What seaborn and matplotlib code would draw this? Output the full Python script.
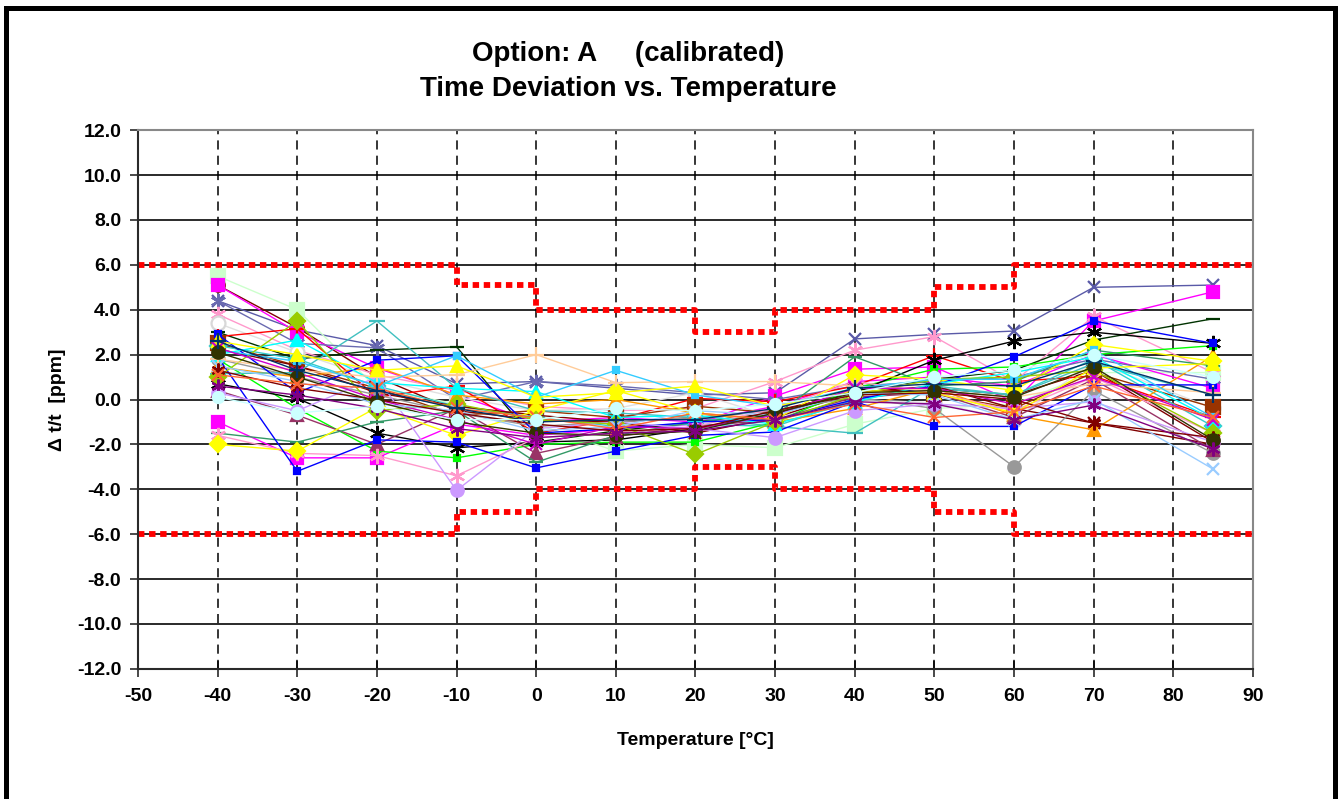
import matplotlib
matplotlib.use("Agg")
import matplotlib.pyplot as plt
from matplotlib.patches import Rectangle
import seaborn as sns
import pandas as pd
import numpy as np

# temperatures where every part was measured
temps = [-40, -30, -20, -10, 0, 10, 20, 30, 40, 50, 60, 70, 85]

# limit lines (step shaped)
limit_x = [-50, -10, -10, 0, 0, 20, 20, 30, 30, 50, 50, 60, 60, 90]
limit_upper = [6, 6, 5.1, 5.1, 4, 4, 3, 3, 4, 4, 5, 5, 6, 6]
limit_lower = [-6, -6, -5, -5, -4, -4, -3, -3, -4, -4, -5, -5, -6, -6]

# measured deviation per part [ppm] at each temperature
s01 = [4.4, 3.1, 2.4, 0.7, 0.8, 0.5, 0.2, 0.3, 2.7, 2.9, 3.05, 5.0, 5.1]
s02 = [-1.0, -2.6, -2.6, -1.1, -1.6, -1.3, -1.1, 0.15, 1.35, 1.45, -0.1, 3.5, 4.8]
s03 = [5.5, 4.0, 0.5, -0.2, -1.1, -2.3, -2.0, -2.15, -1.1, -0.4, -0.2, 1.2, 1.2]
s04 = [5.1, 3.2, 1.0, -0.5, -0.9, -1.0, -0.8, -0.5, 0.3, 0.5, 0.2, 1.3, -1.9]
s05 = [5.1, 3.0, 1.4, 0.2, -1.0, -0.8, -1.0, -0.3, 0.8, 1.0, 0.6, 2.0, 0.5]
s06 = [4.4, 2.5, 2.3, 0.0, 0.8, 0.6, 0.3, 0.0, 0.6, 0.8, 1.0, 1.8, 0.9]
s07 = [3.8, 2.2, 1.1, 0.4, -0.3, -0.5, -0.4, 0.8, 2.2, 2.8, 0.8, 3.7, 1.2]
s08 = [3.4, 2.1, 0.9, 0.1, -0.5, -0.4, 0.3, -0.8, 0.0, -0.15, -0.9, 1.7, -0.4]
s09 = [3.0, 1.8, 2.2, 2.35, -1.9, -1.4, -1.0, -0.6, 0.4, 0.9, 1.3, 2.65, 3.6]
s10 = [2.8, 3.15, 0.1, 0.6, -1.5, -0.9, 0.05, -0.1, 0.6, 1.95, 0.8, 1.05, -0.8]
s11 = [2.5, 1.5, 0.5, -0.7, -0.5, -0.8, -0.3, -0.6, 0.4, 0.25, -0.4, 1.2, -0.35]
s12 = [2.4, 1.8, 0.6, -0.3, -0.8, -1.2, -1.1, -1.2, 0.0, 0.5, 0.2, 1.8, -1.2]
s13 = [2.25, 1.5, 0.3, -0.3, -0.7, -1.0, -1.5, -0.8, 0.3, 0.6, -0.4, -1.05, -2.0]
s14 = [1.8, 1.0, 0.2, -0.6, -1.2, -1.0, -0.8, -0.5, 0.1, -0.4, -3.0, 0.4, -2.4]
s15 = [1.8, -0.4, -2.3, -2.6, -2.0, -1.9, -1.9, -1.0, 0.5, 1.35, 1.45, 2.0, 2.4]
s16 = [1.45, 1.0, 1.45, 0.2, -0.2, 0.0, -0.6, -1.0, -0.4, 0.5, -0.7, -1.35, 1.95]
s17 = [1.15, 1.2, 3.5, 0.5, -0.5, -0.6, -0.8, -1.2, -1.5, 0.6, 0.2, 1.6, 0.2]
s18 = [0.7, 0.05, -1.5, -2.15, -1.9, -1.8, -1.3, -0.65, 0.3, 1.75, 2.6, 3.0, 2.5]
s19 = [0.4, -0.7, -2.0, -0.4, -2.4, -1.65, -1.2, -0.9, 0.1, 0.3, -0.8, 0.9, -2.25]
s20 = [-1.5, -1.9, -1.0, -0.5, -2.8, -1.6, -1.0, -0.7, 1.9, 0.6, 0.8, 2.2, 1.5]
s21 = [-1.6, -2.4, -2.5, -3.4, -1.7, -1.5, -1.2, -0.4, 0.8, 0.3, -0.5, 1.0, -1.5]
s22 = [-2.0, -2.3, -0.35, -1.6, -0.5, 0.4, -0.6, -0.9, 1.1, 0.9, 0.4, 2.45, 1.7]
s23 = [1.9, -3.2, -1.8, -1.9, -3.05, -2.3, -1.6, -1.45, -0.1, -1.2, -1.2, 0.65, 0.65]
s24 = [2.9, 0.3, 1.75, 1.95, -1.5, -1.3, -1.0, -0.9, 0.0, 0.6, 1.9, 3.5, 2.5]
s25 = [0.3, -0.5, 1.0, -4.05, -1.3, -1.0, -1.3, -1.7, -0.5, -0.2, -0.4, -0.1, -1.9]
s26 = [2.0, 2.65, 0.75, 0.5, 0.35, -0.8, -0.7, -1.1, -0.1, 0.7, 1.2, 1.9, -0.9]
s27 = [1.0, 3.5, -0.5, -0.2, -0.9, -1.1, -2.45, -1.0, 0.2, 0.9, 1.0, 1.3, -1.5]
s28 = [1.8, 1.3, 1.0, 1.1, 2.0, 0.75, 0.8, 0.8, 0.6, 0.4, 0.1, 0.7, 0.3]
s29 = [2.2, 1.7, 0.6, 1.95, 0.1, 1.3, 0.2, -0.3, 0.5, 0.9, 0.9, 2.2, -0.8]
s30 = [2.6, 2.0, 1.3, 1.5, 0.1, 0.3, 0.6, -0.3, 0.4, 0.3, -0.6, 1.4, 1.6]
s31 = [2.3, 1.2, 0.0, -0.9, -2.0, -1.2, -1.3, -0.7, 0.5, 0.5, -0.2, 1.0, -0.9]
s32 = [1.5, 0.8, -0.2, -0.5, -1.4, -1.2, -0.5, -0.7, 0.3, 0.2, -0.9, 0.0, -3.1]
s33 = [1.3, 0.5, 0.0, -0.6, -1.1, -1.4, -1.3, -0.5, 0.2, 0.3, 0.0, -1.05, -1.7]
s34 = [2.1, 1.0, -0.1, -1.0, -1.5, -1.6, -1.4, -0.6, 0.3, 0.4, 0.1, 1.45, -1.8]
s35 = [1.1, 0.7, 0.5, -0.4, -0.8, -1.3, -0.6, -0.9, -0.2, -0.8, -0.55, 0.6, -0.8]
s36 = [0.6, 0.2, -0.4, -1.3, -1.7, -1.5, -1.4, -0.9, -0.1, -0.2, -0.9, -0.25, -2.2]
s37 = [2.6, 1.3, 0.4, -0.4, -1.0, -0.9, -0.9, -0.4, 0.5, 0.7, 0.6, 1.7, 0.2]
s38 = [0.1, -0.6, -0.3, -0.9, -0.9, -0.4, -0.5, -0.2, 0.3, 1.0, 1.3, 2.0, 1.0]

ast = (6, 2, 0)  # excel-like asterisk
# (values, colour, marker, marker size)
series = [
    (s01, '#5a5aa8', 'x', 9), (s02, '#ff00ff', 's', 9), (s03, '#ccffcc', 's', 10),
    (s04, '#800000', 'o', 9), (s05, '#ff00ff', 's', 8), (s06, '#6a6ab0', ast, 11),
    (s07, '#ff99cc', ast, 11), (s08, 'white', 'o', 10), (s09, '#003300', '_', 10),
    (s10, '#ff0000', '+', 12), (s11, '#993300', 's', 10), (s12, '#33cccc', 'D', 8),
    (s13, '#800000', 'x', 9), (s14, '#999999', 'o', 9), (s15, '#00ff00', 's', 5),
    (s16, '#ff9900', '^', 9), (s17, '#40c0c0', '_', 12), (s18, '#000000', ast, 11),
    (s19, '#993366', '^', 9), (s20, '#339966', '_', 10), (s21, '#ff99cc', ast, 11),
    (s22, '#ffff00', 'D', 8), (s23, '#0000ff', 's', 5), (s24, '#0000ff', 's', 5),
    (s25, '#cc99ff', 'o', 9), (s26, '#00ffff', '^', 9), (s27, '#99cc00', 'D', 8),
    (s28, '#ffcc99', '+', 12), (s29, '#33ccff', 's', 5), (s30, '#ffff00', '^', 9),
    (s31, '#cc00cc', 'x', 9), (s32, '#99ccff', 'x', 9), (s33, '#800000', ast, 10),
    (s34, '#333300', 'o', 9), (s35, '#ff6633', 'x', 9), (s36, '#800080', ast, 10),
    (s37, '#003366', '+', 11), (s38, '#ccffff', 'o', 8),
]

sns.set_theme(style="white")
plt.rcParams['font.family'] = ['Liberation Sans', 'DejaVu Sans']
plt.rcParams['font.weight'] = 'bold'
plt.rcParams['axes.unicode_minus'] = False
plt.rcParams['text.color'] = 'black'
plt.rcParams['axes.labelcolor'] = 'black'
plt.rcParams['xtick.color'] = 'black'
plt.rcParams['ytick.color'] = 'black'

fig, ax = plt.subplots(figsize=(13.4, 7.99), dpi=100)
fig.subplots_adjust(left=0.103, right=0.935, bottom=0.163, top=0.837)

# limits
for lim in (limit_upper, limit_lower):
    ax.plot(limit_x, lim, color='#ff0000', lw=4.2, linestyle=(0, (1.1, 0.8)),
            dash_capstyle='butt', zorder=2)

for vals, col, mk, ms in series:
    edge = '#d8d8d8' if col == 'white' else col
    sns.lineplot(x=temps, y=vals, ax=ax, color=col if col != 'white' else '#e0e0e0',
                 marker=mk, markersize=ms, markerfacecolor=col, markeredgecolor=edge,
                 markeredgewidth=1.6, linewidth=1.0, zorder=3, legend=False)

ax.set_xlim(-50, 90)
ax.set_ylim(-12, 12)
ax.set_xticks(np.arange(-50, 91, 10))
ax.set_yticks(np.arange(-12, 13, 2))
ax.set_yticklabels([f"{v:.1f}" for v in np.arange(-12, 13, 2)])

# grid: solid horizontal, dashed vertical
for yv in np.arange(-10, 13, 2):
    ax.axhline(yv, color='#2a2a2a', lw=1.4, zorder=1)
for xv in np.arange(-40, 90, 10):
    ax.axvline(xv, color='#000000', lw=1.1, linestyle=(0, (6, 4)), zorder=1)

for side in ['left', 'bottom']:
    ax.spines[side].set_color('#2a2a2a')
    ax.spines[side].set_linewidth(1.5)
for side in ['right', 'top']:
    ax.spines[side].set_color('#888888')
    ax.spines[side].set_linewidth(1.5)

ax.tick_params(axis='y', direction='out', length=6, width=1.2, color='#2a2a2a',
               labelsize=14, pad=6, left=True)
ax.tick_params(axis='x', direction='inout', length=12, width=1.2, color='#2a2a2a',
               labelsize=14, pad=8, bottom=True)
for lbl in ax.get_xticklabels() + ax.get_yticklabels():
    lbl.set_fontweight('bold')

ax.set_xlabel('Temperature [°C]', fontsize=14, fontweight='bold', labelpad=19)
ax.set_ylabel('Δ t/t  [ppm]', fontsize=14, fontweight='bold', labelpad=8)

fig.text(0.469, 0.932, 'Option: A     (calibrated)', ha='center', va='center',
         fontsize=20, fontweight='bold')
fig.text(0.469, 0.889, 'Time Deviation vs. Temperature', ha='center', va='center',
         fontsize=20, fontweight='bold')

# outer frame
fig.patches.append(Rectangle((0.0043, -0.1), 0.9916, 1.0906, transform=fig.transFigure,
                             fill=False, edgecolor='black', linewidth=3.6))

fig.savefig('out.png', dpi=100)
